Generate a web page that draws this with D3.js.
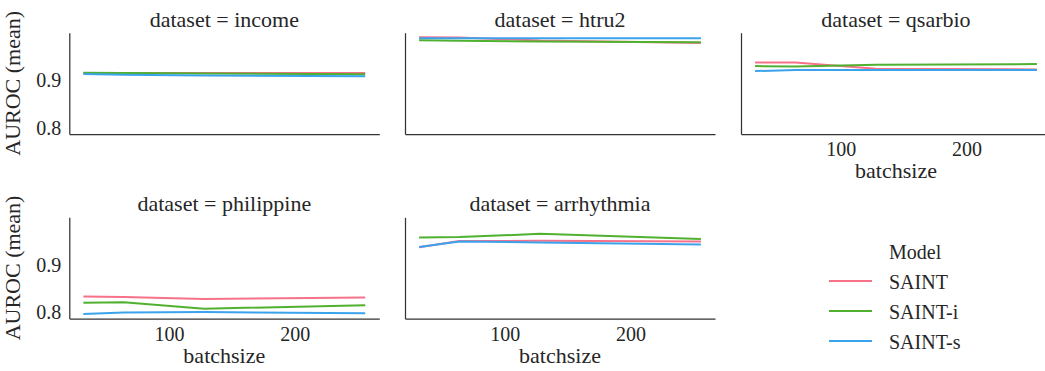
<!DOCTYPE html>
<html>
<head>
<meta charset="utf-8">
<script src="https://cdn.jsdelivr.net/npm/d3@7"></script>
<style>
  body { margin: 0; background: #fff; }
  svg text { font-family: "Liberation Serif", "Times New Roman", Times, "DejaVu Serif", "Noto Serif", serif !important; fill: #262626; }
</style>
</head>
<body>
<svg id="chart" width="1045" height="371"></svg>
<script>
// data
const batchSizes = [32, 64, 128, 256];
const datasets = ["income", "htru2", "qsarbio", "philippine", "arrhythmia"];
const models = ["SAINT", "SAINT-i", "SAINT-s"];
const modelColors = ["#f77189", "#50b131", "#3ba3ec"];

// one row per dataset, one value per batch size
const aurocSaint = [
  [0.9151, 0.9150, 0.9149, 0.9147],
  [0.9897, 0.9893, 0.9830, 0.9780],
  [0.9370, 0.9370, 0.9239, 0.9224],
  [0.8335, 0.8320, 0.8278, 0.8314],
  [0.9364, 0.9495, 0.9501, 0.9487]
];
const aurocSaintI = [
  [0.9155, 0.9150, 0.9140, 0.9120],
  [0.9835, 0.9825, 0.9808, 0.9793],
  [0.9293, 0.9287, 0.9322, 0.9335],
  [0.8203, 0.8210, 0.8078, 0.8147],
  [0.9570, 0.9578, 0.9647, 0.9537]
];
const aurocSaintS = [
  [0.9126, 0.9112, 0.9098, 0.9078],
  [0.9876, 0.9876, 0.9876, 0.9876],
  [0.9189, 0.9210, 0.9210, 0.9210],
  [0.7966, 0.7995, 0.8008, 0.7980],
  [0.9370, 0.9487, 0.9466, 0.9424]
];
const xTicks = [100, 200];
const yTicks = [0.8, 0.9];

const series = [aurocSaint, aurocSaintI, aurocSaintS];

const svg = d3.select("#chart");
const panelW = 310, panelH = 101.3;
const colX = [69.3, 405, 741];
const rowY = [32.7, 217.3];

// shared scales, matplotlib style 5% margins
const xPad = (d3.max(batchSizes) - d3.min(batchSizes)) * 0.05;
const x = d3.scaleLinear()
  .domain([d3.min(batchSizes) - xPad, d3.max(batchSizes) + xPad])
  .range([0, panelW]);
const allVals = series.flat(2);
const yMin = d3.min(allVals), yMax = d3.max(allVals);
const yPad = (yMax - yMin) * 0.05;
const y = d3.scaleLinear()
  .domain([yMin - yPad, yMax + yPad])
  .range([panelH, 0]);

const line = d3.line()
  .x((d, i) => x(batchSizes[i]))
  .y(d => y(d));

datasets.forEach((name, k) => {
  const col = k % 3, row = Math.floor(k / 3);
  const g = svg.append("g")
    .attr("transform", `translate(${colX[col]},${rowY[row]})`);

  series.forEach((s, m) => {
    g.append("path")
      .datum(s[k])
      .attr("d", line)
      .attr("fill", "none")
      .attr("stroke", modelColors[m])
      .attr("stroke-width", 2);
  });

  // x axis: labels only on the lowest panel of each column
  const showX = row === 1 || col === 2;
  const xAxis = g.append("g")
    .attr("transform", `translate(0,${panelH})`)
    .call(d3.axisBottom(x).tickValues(xTicks).tickSize(0).tickPadding(8)
      .tickFormat(showX ? d3.format("d") : ""));
  xAxis.attr("font-family", null);
  xAxis.select(".domain").attr("stroke", "#333").attr("stroke-width", 1.25);
  xAxis.selectAll("text").attr("font-size", 20).attr("fill", "#262626");

  const yAxis = g.append("g")
    .call(d3.axisLeft(y).tickValues(yTicks).tickSize(0).tickPadding(8)
      .tickFormat(col === 0 ? d3.format(".1f") : ""));
  yAxis.attr("font-family", null);
  yAxis.select(".domain").attr("stroke", "#333").attr("stroke-width", 1.25);
  yAxis.selectAll("text").attr("font-size", 20).attr("fill", "#262626");

  g.append("text")
    .attr("x", panelW / 2)
    .attr("y", -6)
    .attr("text-anchor", "middle")
    .attr("font-size", 22)
    .text(`dataset = ${name}`);

  if (showX) {
    g.append("text")
      .attr("x", panelW / 2)
      .attr("y", panelH + 44)
      .attr("text-anchor", "middle")
      .attr("font-size", 22)
      .text("batchsize");
  }
  if (col === 0) {
    g.append("text")
      .attr("transform", `translate(${-49},${panelH / 2}) rotate(-90)`)
      .attr("text-anchor", "middle")
      .attr("font-size", 22)
      .text("AUROC (mean)");
  }
});

// legend
const legend = svg.append("g").attr("transform", "translate(829,0)");
legend.append("text")
  .attr("x", 60).attr("y", 259)
  .attr("font-size", 20)
  .text("Model");
models.forEach((m, i) => {
  const yy = 281 + i * 30;
  legend.append("line")
    .attr("x1", 0).attr("x2", 43)
    .attr("y1", yy).attr("y2", yy)
    .attr("stroke", modelColors[i])
    .attr("stroke-width", 2);
  legend.append("text")
    .attr("x", 60).attr("y", yy + 8)
    .attr("font-size", 20)
    .text(m);
});
</script>
</body>
</html>
